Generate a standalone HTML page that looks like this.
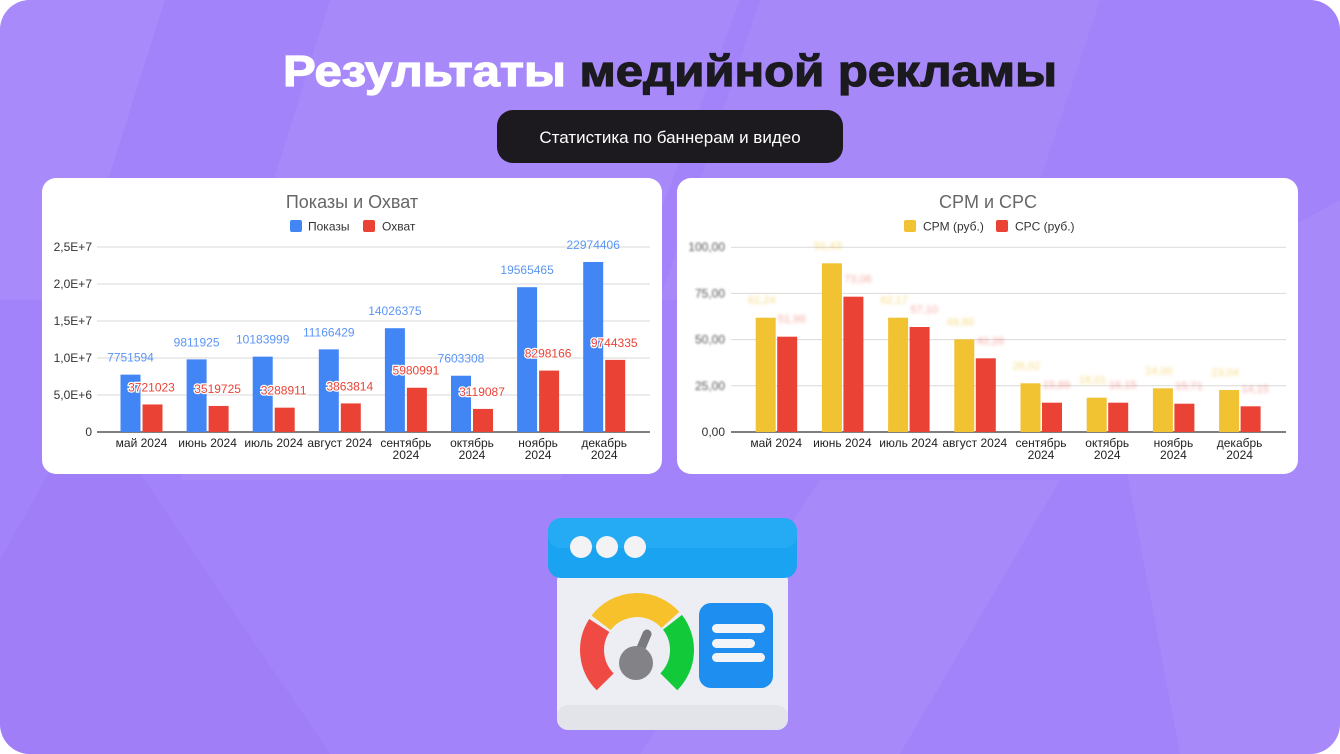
<!DOCTYPE html>
<html><head><meta charset="utf-8"><style>
html,body{margin:0;padding:0;background:#fff;width:1340px;height:754px;overflow:hidden}
svg{display:block;font-family:"Liberation Sans",sans-serif}
</style></head><body>
<svg id="s" width="1340" height="754" viewBox="0 0 1340 754" xmlns="http://www.w3.org/2000/svg">
<defs>
<clipPath id="frame"><rect x="0" y="0" width="1340" height="754" rx="30"/></clipPath>
<filter id="bl" x="-20%" y="-50%" width="140%" height="200%"><feGaussianBlur stdDeviation="1.6"/></filter>
<filter id="bl2" x="-20%" y="-50%" width="140%" height="200%"><feGaussianBlur stdDeviation="1.1"/></filter>
</defs>
<g clip-path="url(#frame)">
<rect width="1340" height="754" fill="#a383f9"/>
<polygon points="0,0 165,0 70,300 0,300" fill="#a98cfa" opacity="0.8"/>
<polygon points="330,0 740,0 560,480 180,480" fill="#ab8ffa" opacity="0.5"/>
<polygon points="760,0 1100,0 1000,300 660,300" fill="#ac90fa" opacity="0.4"/>
<polygon points="1100,330 1340,200 1340,754 1180,754" fill="#ac90fa" opacity="0.5"/>
<polygon points="0,560 90,400 330,754 0,754" fill="#9c79f5" opacity="0.5"/>
<polygon points="820,480 1060,480 900,754 640,754" fill="#ab8ffa" opacity="0.5"/>
</g>
<text x="670" y="86" text-anchor="middle" font-size="44" font-weight="bold" textLength="774" lengthAdjust="spacingAndGlyphs" stroke-width="1.2"><tspan fill="#fff" stroke="#fff">Результаты </tspan><tspan fill="#1b1a1f" stroke="#1b1a1f">медийной рекламы</tspan></text>
<rect x="497" y="110" width="346" height="53" rx="16" fill="#1c1a1f"/>
<text x="670" y="143" text-anchor="middle" font-size="17" fill="#fff">Статистика по баннерам и видео</text>
<rect x="42" y="178" width="620" height="296" rx="14" fill="#fff"/>
<rect x="677" y="178" width="621" height="296" rx="14" fill="#fff"/>
<text x="352" y="208" text-anchor="middle" font-size="18" fill="#666">Показы и Охват</text>
<rect x="290" y="220" width="12" height="12" rx="2" fill="#4285f4"/><text x="308" y="230.5" font-size="12" fill="#333">Показы</text>
<rect x="363" y="220" width="12" height="12" rx="2" fill="#ea4335"/><text x="382" y="230.5" font-size="12" fill="#333">Охват</text>
<text x="988" y="208" text-anchor="middle" font-size="18" fill="#666">CPM и CPC</text>
<rect x="904" y="220" width="12" height="12" rx="2" fill="#f1c232"/><text x="923" y="230.5" font-size="12" fill="#333">CPM (руб.)</text>
<rect x="996" y="220" width="12" height="12" rx="2" fill="#ea4335"/><text x="1015" y="230.5" font-size="12" fill="#333">CPC (руб.)</text>
<g id="c1"></g><g id="c2"></g>
<!-- illustration -->
<rect x="557" y="570" width="231" height="160" rx="11" fill="#eceef4"/>
<rect x="557" y="705" width="231" height="25" rx="11" fill="#e2e4ea"/>
<rect x="548" y="518" width="249" height="60" rx="13" fill="#1aa3f0"/>
<rect x="548" y="518" width="249" height="30" rx="13" fill="#2db0f7" opacity="0.6"/>
<circle cx="581" cy="547" r="11" fill="#f3f3f6"/><circle cx="607" cy="547" r="11" fill="#f3f3f6"/><circle cx="635" cy="547" r="11" fill="#f3f3f6"/>
<g fill="none" stroke-width="24">
<path d="M605.2,681.8 A45 45 0 0 1 599.3,625.5" stroke="#f04a45"/>
<path d="M601.1,622.9 A45 45 0 0 1 670.4,619.9" stroke="#f7c12b"/>
<path d="M672.5,622.3 A45 45 0 0 1 668.8,681.8" stroke="#12c93a"/>
</g>
<line x1="636" y1="660" x2="647" y2="634" stroke="#7a7a7e" stroke-width="9" stroke-linecap="round"/>
<circle cx="636" cy="663" r="17" fill="#838387"/>
<rect x="699" y="603" width="74" height="85" rx="12" fill="#1e8ff0"/>
<rect x="712" y="624" width="53" height="9" rx="4.5" fill="#f3f4f7"/>
<rect x="712" y="639" width="43" height="9" rx="4.5" fill="#f3f4f7"/>
<rect x="712" y="653" width="53" height="9" rx="4.5" fill="#f3f4f7"/>
</svg>
<script>
const NS="http://www.w3.org/2000/svg";
function el(p,t,a,txt){const e=document.createElementNS(NS,t);for(const k in a)e.setAttribute(k,a[k]);if(txt!==undefined)e.textContent=txt;p.appendChild(e);return e;}
const months=[["май 2024"],["июнь 2024"],["июль 2024"],["август 2024"],["сентябрь","2024"],["октябрь","2024"],["ноябрь","2024"],["декабрь","2024"]];
const c1=document.getElementById("c1");
const yt1=["0","5,0E+6","1,0E+7","1,5E+7","2,0E+7","2,5E+7"];
for(let i=0;i<6;i++){const y=432-i*37;el(c1,"line",{x1:97,x2:650,y1:y,y2:y,stroke:i?"#d9d9d9":"#333","stroke-width":i?1:1.2});el(c1,"text",{x:92,y:y+4,"text-anchor":"end","font-size":12,fill:"#333"},yt1[i]);}
const A=[7751594,9811925,10183999,11166429,14026375,7603308,19565465,22974406];
const B=[3721023,3519725,3288911,3863814,5980991,3119087,8298166,9744335];
for(let i=0;i<8;i++){const x=120.5+i*66.1;const ha=A[i]*7.4e-6,hb=B[i]*7.4e-6;
el(c1,"rect",{x:x,y:432-ha,width:20,height:ha,fill:"#4285f4"});
el(c1,"rect",{x:x+22,y:432-hb,width:20,height:hb,fill:"#ea4335"});
el(c1,"text",{x:x+10,y:432-ha-13,"text-anchor":"middle","font-size":12,fill:"#5b95f5"},A[i]);
el(c1,"text",{x:x+31,y:432-hb-13,"text-anchor":"middle","font-size":12,fill:"#ea4335",stroke:"#fff","stroke-width":2.5,"paint-order":"stroke"},B[i]);
const m=months[i];const cx=x+21;
el(c1,"text",{x:cx,y:447,"text-anchor":"middle","font-size":12,fill:"#222"},m[0]);
if(m[1])el(c1,"text",{x:cx,y:459,"text-anchor":"middle","font-size":12,fill:"#222"},m[1]);}
const c2=document.getElementById("c2");
const yt2=["0,00","25,00","50,00","75,00","100,00"];
for(let i=0;i<5;i++){const y=432-i*46.2;el(c2,"line",{x1:731,x2:1286,y1:y,y2:y,stroke:i?"#d9d9d9":"#333","stroke-width":i?1:1.2});
el(c2,"text",{x:725,y:y+4,"text-anchor":"end","font-size":12,fill:i?"#555":"#333",filter:i?"url(#bl2)":""},yt2[i]);}
const ya=[317.7,263.3,317.7,339.3,383.3,397.7,388.3,390],yb=[336.7,296.7,327,358.3,402.7,402.7,403.7,406.3];
const la=["62,24","91,43","62,17","49,80","26,02","18,01","24,00","23,04"],lb=["51,99","73,06","57,10","40,26","15,89","16,15","15,71","14,15"];
for(let i=0;i<8;i++){const x=755.7+i*66.2;
el(c2,"rect",{x:x,y:ya[i],width:20,height:432-ya[i],fill:"#f1c232"});
el(c2,"rect",{x:x+21.5,y:yb[i],width:20,height:432-yb[i],fill:"#ea4335"});
el(c2,"text",{x:x+6,y:ya[i]-14,"text-anchor":"middle","font-size":11,fill:"#f1c232",filter:"url(#bl)",opacity:0.6},la[i]);
el(c2,"text",{x:x+36,y:yb[i]-14,"text-anchor":"middle","font-size":11,fill:"#ea4335",filter:"url(#bl)",opacity:0.45},lb[i]);
const m=months[i];const cx=x+20.5;
el(c2,"text",{x:cx,y:447,"text-anchor":"middle","font-size":12,fill:"#222"},m[0]);
if(m[1])el(c2,"text",{x:cx,y:459,"text-anchor":"middle","font-size":12,fill:"#222"},m[1]);}
</script>
</body></html>
